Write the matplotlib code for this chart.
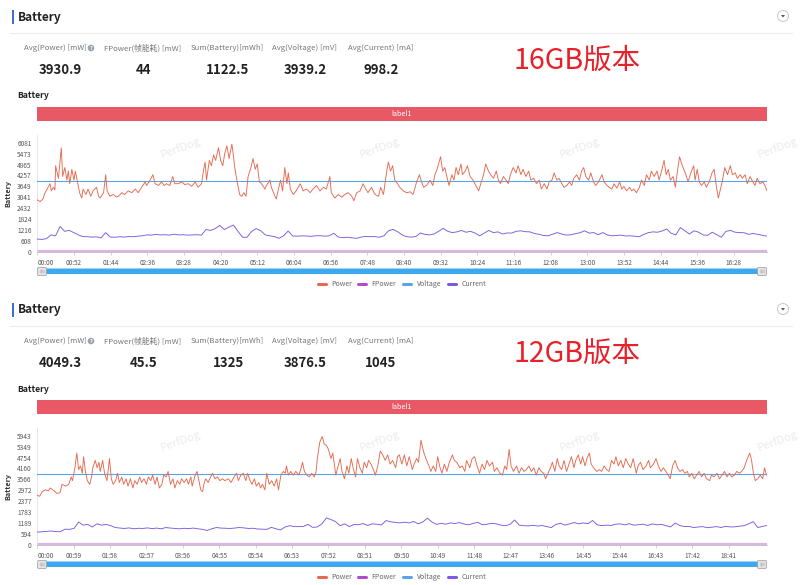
import numpy as np
import matplotlib
matplotlib.use("Agg")
import matplotlib.pyplot as plt
from matplotlib.patches import Rectangle, FancyBboxPatch, Circle, Polygon

plt.rcParams["font.family"] = ["Noto Sans CJK SC", "DejaVu Sans"]

# ---------------------------------------------------------------- data
stat_names = ["Avg(Power) [mW]", "FPower(帧能耗) [mW]", "Sum(Battery)[mWh]",
              "Avg(Voltage) [mV]", "Avg(Current) [mA]"]
series_names = ["Power", "FPower", "Voltage", "Current"]

# 16GB run
v16_title = "16GB版本"
v16_stats = ["3930.9", "44", "1122.5", "3939.2", "998.2"]
v16_voltage = 3939.2
v16_fpower = 44
v16_duration = 1035          # seconds
v16_tick_step = 52           # seconds between time labels
v16_ymax_tick = 6081
v16_power_t = [0, 4, 8, 11, 14, 18, 20, 23, 25, 26, 30, 34, 36, 39, 42, 44, 46, 49, 52, 54,
               57, 60, 63, 65, 69, 72, 76, 79, 84, 87, 89, 94, 97, 99, 103, 108, 112, 115, 120, 124,
               129, 134, 139, 143, 148, 153, 155, 160, 164, 167, 172, 176, 180, 183, 188, 192, 195, 200, 205, 209,
               214, 219, 224, 228, 233, 236, 238, 240, 244, 247, 250, 253, 257, 260, 263, 266, 269, 272, 276, 278,
               280, 284, 287, 290, 293, 296, 299, 303, 306, 309, 312, 315, 318, 323, 325, 330, 332, 336, 339, 342,
               345, 348, 351, 354, 356, 359, 363, 367, 370, 373, 377, 382, 387, 391, 396, 401, 406, 410, 415, 417,
               422, 427, 432, 436, 441, 446, 449, 453, 458, 462, 466, 469, 474, 479, 484, 487, 491, 496, 498, 501,
               504, 507, 511, 514, 519, 524, 529, 533, 538, 542, 545, 548, 552, 557, 561, 564, 567, 572, 575, 578,
               582, 584, 588, 591, 594, 597, 601, 603, 607, 610, 614, 618, 622, 626, 629, 633, 636, 640, 643, 647,
               651, 654, 657, 661, 665, 668, 671, 675, 679, 682, 686, 689, 693, 697, 700, 704, 708, 712, 715, 719,
               723, 726, 730, 733, 737, 740, 744, 747, 751, 755, 758, 761, 765, 769, 772, 775, 778, 782, 785, 789,
               792, 796, 801, 804, 808, 811, 815, 818, 822, 826, 829, 832, 836, 840, 843, 846, 850, 854, 857, 861,
               864, 868, 871, 875, 879, 882, 886, 889, 892, 895, 898, 902, 905, 908, 911, 914, 917, 920, 923, 927,
               931, 933, 936, 939, 942, 946, 949, 953, 957, 960, 963, 966, 969, 972, 975, 979, 983, 986, 990, 993,
               997, 1000, 1004, 1007, 1011, 1015, 1018, 1021, 1025, 1029, 1032, 1035]
v16_power = [2900, 2800, 2950, 3300, 3500, 3800, 3400, 3600, 3450, 4800, 4100, 5800, 4200, 4700, 4000, 4500, 3800, 4600, 4000, 4500,
             3900, 3300, 3000, 3500, 3200, 3500, 3100, 3400, 3600, 3100, 3000, 3300, 4300, 3400, 3100, 3200, 3050, 3100, 3300, 3200,
             3400, 3300, 3500, 3300, 3600, 3900, 3700, 4000, 4300, 3800, 3700, 3900, 3700, 3800, 3700, 4200, 3800, 3800, 3900, 3750,
             3800, 3650, 3900, 3600, 3800, 4600, 5000, 4000, 5100, 4800, 5400, 5100, 5800, 5100, 4800, 5500, 5900, 5200, 6000, 5400,
             4700, 3800, 3200, 3100, 3300, 3100, 4200, 4700, 5200, 4600, 4900, 3900, 3800, 3500, 3700, 4000, 3600, 3200, 2950, 3500,
             4000, 3400, 4700, 3800, 4400, 3500, 3200, 3400, 3600, 3800, 3400, 3500, 3300, 3500, 3700, 3400, 3600, 3500, 4200, 3300,
             3000, 3200, 3050, 3200, 3300, 3100, 2850, 3300, 3400, 3800, 3500, 3300, 3600, 3200, 3100, 3600, 3200, 4600, 5000, 4500,
             4800, 4000, 3800, 3600, 3400, 3300, 3350, 3200, 3900, 4300, 3900, 3600, 3700, 4000, 3700, 4300, 4600, 5300, 4500, 4700,
             4000, 3700, 4300, 4000, 4700, 4300, 4900, 4300, 4500, 4800, 4200, 4000, 3700, 3400, 3800, 4300, 4900, 4500, 4300, 4100,
             4500, 4000, 3800, 4200, 4000, 3800, 4300, 4700, 4400, 4800, 4300, 4600, 4200, 4500, 4000, 4100, 3800, 4000, 3500, 3800,
             3500, 3900, 4000, 4400, 4000, 4100, 3800, 3600, 3700, 3900, 3700, 4100, 4300, 4000, 4500, 4700, 4200, 4000, 4400, 3900,
             3700, 3900, 4300, 3900, 3700, 3600, 3500, 3800, 3550, 3900, 3500, 3650, 3400, 3600, 3400, 3500, 3300, 3600, 4000, 3700,
             4300, 4000, 4500, 4200, 4500, 4000, 4600, 5100, 4300, 4600, 4000, 4200, 3600, 4500, 5300, 4900, 4600, 4300, 3900, 4400,
             4800, 4000, 4600, 3900, 3700, 3900, 3600, 3900, 4400, 4600, 3700, 3000, 3500, 4000, 4700, 4300, 4800, 4300, 4400, 4100,
             4300, 4100, 4300, 3800, 4200, 3900, 3700, 4100, 3800, 3900, 3700, 3400]
v16_current = [720, 700, 740, 950, 900, 1420, 1150, 1200, 1080, 950, 860, 850, 830, 840, 790, 1080, 830, 820, 850, 830,
               860, 850, 880, 900, 950, 940, 980, 950, 960, 940, 990, 950, 960, 940, 950, 960, 940, 1250, 1200, 1300,
               1480, 1250, 1380, 1500, 1150, 820, 820, 1150, 1300, 1180, 950, 900, 860, 760, 900, 1170, 890, 880, 900, 890,
               870, 900, 910, 880, 900, 1040, 830, 800, 820, 790, 760, 830, 870, 850, 860, 820, 900, 1180, 1260, 1130,
               950, 850, 830, 860, 1060, 980, 950, 1000, 1150, 1320, 1150, 1080, 1120, 1200, 1100, 1150, 1050, 900, 1050, 1200,
               1080, 1120, 1000, 1060, 1050, 1150, 1180, 1130, 1120, 1030, 980, 920, 900, 990, 1080, 1000, 940, 960, 1020, 1070,
               1180, 1050, 1080, 960, 1080, 950, 900, 920, 940, 890, 900, 880, 850, 980, 1080, 1120, 1100, 1170, 1280, 1040,
               950, 1360, 1180, 1000, 1180, 1100, 950, 930, 1100, 960, 820, 1150, 1200, 1100, 1080, 1070, 980, 1030, 980, 930,
               880]

# 12GB run
v12_title = "12GB版本"
v12_stats = ["4049.3", "45.5", "1325", "3876.5", "1045"]
v12_voltage = 3876.5
v12_fpower = 45.5
v12_duration = 1183
v12_tick_step = 59
v12_ymax_tick = 5943
v12_power_t = [0, 4, 8, 13, 18, 21, 27, 32, 37, 40, 46, 51, 55, 57, 61, 64, 67, 70, 73, 75,
               78, 81, 85, 88, 90, 94, 97, 100, 102, 106, 109, 113, 117, 120, 123, 127, 130, 133, 137, 140,
               144, 147, 151, 155, 158, 162, 166, 169, 173, 177, 180, 184, 187, 191, 194, 198, 202, 205, 209, 212,
               216, 220, 223, 227, 231, 234, 238, 242, 245, 249, 251, 256, 259, 262, 265, 268, 270, 273, 277, 281,
               284, 288, 292, 296, 300, 304, 310, 314, 319, 323, 326, 330, 334, 338, 341, 345, 348, 352, 355, 359,
               362, 365, 369, 372, 376, 380, 384, 388, 391, 395, 399, 402, 404, 407, 411, 415, 419, 424, 427, 430,
               433, 437, 441, 445, 449, 452, 454, 458, 462, 465, 469, 472, 476, 479, 482, 484, 487, 491, 494, 498,
               502, 505, 509, 512, 516, 519, 523, 527, 530, 534, 537, 541, 545, 548, 552, 556, 560, 564, 568, 572,
               576, 581, 584, 587, 591, 595, 599, 603, 608, 611, 615, 618, 622, 626, 630, 635, 638, 642, 646, 649,
               653, 656, 660, 664, 668, 673, 676, 680, 685, 689, 693, 696, 701, 705, 709, 713, 717, 721, 725, 729,
               733, 738, 741, 745, 750, 754, 758, 761, 765, 768, 772, 777, 781, 785, 789, 793, 797, 801, 805, 809,
               813, 817, 821, 824, 828, 832, 835, 839, 843, 846, 850, 854, 858, 862, 866, 870, 873, 877, 881, 884,
               888, 891, 895, 898, 902, 907, 911, 915, 919, 923, 927, 931, 935, 938, 942, 946, 950, 954, 958, 962,
               966, 971, 974, 978, 982, 987, 991, 994, 999, 1003, 1007, 1011, 1015, 1019, 1023, 1026, 1030, 1034, 1038, 1042,
               1046, 1050, 1054, 1057, 1061, 1065, 1069, 1073, 1077, 1081, 1085, 1090, 1093, 1097, 1102, 1106, 1110, 1114, 1118, 1122,
               1126, 1130, 1134, 1138, 1142, 1146, 1150, 1155, 1158, 1161, 1164, 1168, 1172, 1176, 1179, 1182]
v12_power = [2700, 2650, 2900, 3000, 2950, 3100, 2950, 2800, 2850, 3300, 3200, 3300, 3700, 3500, 4200, 5000, 4100, 4300, 3900, 4800,
             4000, 3500, 3300, 3700, 4200, 4600, 4200, 4500, 4000, 4600, 3900, 3500, 4700, 3600, 3300, 3500, 3900, 3400, 3700, 3300,
             3600, 3200, 3600, 3100, 3500, 3300, 3700, 3400, 3600, 3300, 3700, 3500, 3800, 3300, 3700, 3100, 3300, 3800, 3700, 4000,
             3300, 3600, 3100, 3500, 3300, 3600, 3400, 3600, 3300, 3700, 3200, 3800, 4000, 3500, 3000, 2900, 3300, 3600, 3400, 3700,
             3900, 3600, 3700, 3500, 3600, 3500, 3600, 3400, 3700, 3900, 3500, 3800, 3900, 3500, 3900, 3500, 3300, 3600, 3200, 3400,
             3100, 3300, 3000, 3900, 3300, 3500, 3200, 3600, 3000, 3800, 4000, 3900, 4300, 3800, 4000, 3800, 4000, 3800, 4100, 4500,
             4000, 3800, 3700, 3900, 3700, 4000, 4700, 5600, 5900, 5500, 5400, 5200, 4700, 5000, 4300, 3800, 4200, 4700, 4000, 3600,
             4300, 3900, 4700, 4200, 3700, 4700, 4200, 3900, 4500, 4200, 4600, 4400, 4100, 3800, 4300, 5100, 4900, 4600, 4900, 4400,
             4600, 4200, 4800, 4900, 4400, 4900, 4300, 4800, 4100, 4400, 4700, 4500, 5700, 5100, 4700, 4300, 4000, 4300, 4000, 4800,
             4200, 3900, 4400, 4000, 4500, 4900, 4600, 4500, 4200, 4300, 4000, 4600, 4200, 4700, 4800, 4300, 3900, 4400, 4100, 4600,
             4300, 4500, 4000, 4200, 3900, 3800, 4300, 4100, 5200, 4300, 4000, 4300, 3900, 4200, 4000, 4100, 4300, 4000, 4200, 3800,
             4200, 4000, 3900, 3600, 3900, 4200, 4500, 4000, 4700, 4300, 4100, 4600, 4000, 4400, 4800, 4200, 4600, 4900, 4400, 4800,
             4300, 4700, 5000, 4400, 4200, 4000, 4100, 4000, 4300, 4100, 4000, 4600, 4400, 4800, 4300, 4600, 4200, 4700, 4400, 4200,
             4700, 3900, 4300, 4500, 4100, 4300, 4600, 4200, 4400, 4700, 4300, 4000, 4200, 4000, 3800, 3600, 4300, 4600, 4200, 4000,
             4100, 3900, 4000, 3700, 3900, 3600, 3800, 4000, 3700, 3900, 3600, 3500, 3800, 3700, 3900, 3600, 3800, 4000, 3700, 3900,
             3700, 3800, 4000, 3900, 4000, 4200, 4600, 5000, 4600, 3900, 3500, 3600, 3800, 3600, 4200, 3800]
v12_current = [700, 720, 740, 760, 730, 720, 860, 850, 900, 1250, 1080, 1120, 980, 1150, 1080, 1120, 1050, 950, 920, 900,
               930, 880, 910, 900, 930, 890, 920, 880, 950, 920, 900, 880, 910, 890, 920, 880, 850, 790, 880, 950,
               920, 910, 900, 920, 950, 930, 900, 910, 870, 860, 850, 960, 880, 820, 980, 1050, 1000, 1000, 1010, 1120,
               960, 980, 1150, 1470, 1380, 1270, 1050, 1150, 1000, 1120, 1100, 1170, 1060, 1150, 1130, 1090, 1330, 1260, 1230, 1200,
               1240, 1200, 1280, 1150, 1250, 1460, 1250, 1120, 1180, 1130, 1200, 1170, 1220, 1140, 1100, 1180, 1230, 1100, 1130, 1180,
               1150, 1080, 1050, 1120, 1360, 1080, 1050, 1040, 1070, 1030, 1060, 1000, 950, 1120, 1180, 1080, 1150, 1220, 1150, 1200,
               1160, 1330, 1100, 1050, 1080, 1060, 1130, 1150, 1090, 1160, 1080, 1100, 1130, 1060, 1150, 1100, 1120, 1050, 980, 1190,
               1060, 1000, 1010, 950, 980, 1000, 940, 970, 1000, 950, 1020, 980, 990, 1020, 1050, 1150, 1270, 950, 1010, 1060]

# ---------------------------------------------------------------- style
C_POWER = "#E5694F"
C_FPOWER = "#B24BC7"
C_VOLT = "#5AA5E8"
C_CURR = "#7A5AE0"
C_SLIDER = "#3DA8EE"
C_LABEL = "#E85865"

W, H = 800, 585
fig = plt.figure(figsize=(8, 5.85), dpi=100)
fig.patch.set_facecolor("white")
bg = fig.add_axes([0, 0, 1, 1], zorder=0)
bg.set_xlim(0, W)
bg.set_ylim(H, 0)
bg.axis("off")


def rect_of(x0, y0, x1, y1):
    return [x0 / W, 1 - y1 / H, (x1 - x0) / W, (y1 - y0) / H]


def mmss(s):
    s = int(round(s))
    return f"{s // 60:02d}:{s % 60:02d}"


def draw_panel(dy, title, stats, power_t, power, current, voltage, fpower,
               duration, tick_step, ymax_tick):
    # header
    bg.add_patch(Rectangle((11.5, 10 + dy), 2, 14, color="#3F6BE0", lw=0))
    bg.text(18, 17 + dy, "Battery", fontsize=8.5, fontweight="bold",
            color="#222222", va="center", ha="left")
    bg.plot([10, 792], [33 + dy, 33 + dy], color="#ececec", lw=0.8)
    bg.add_patch(Circle((783, 16 + dy), 5.5, facecolor="white",
                        edgecolor="#c8c8c8", lw=0.7))
    bg.add_patch(Polygon([[781, 15 + dy], [785, 15 + dy], [783, 17.5 + dy]],
                         closed=True, color="#555555", lw=0))

    # summary numbers
    label_x = [55, 143, 227, 305, 381]
    value_x = [60, 144, 228, 305, 381]
    for name, lx in zip(stat_names, label_x):
        bg.text(lx, 48 + dy, name, fontsize=5.6, color="#777777",
                ha="center", va="center")
    bg.add_patch(Circle((91, 48 + dy), 3.3, color="#9aa3b0", lw=0))
    bg.text(91, 48.2 + dy, "?", fontsize=4, color="white", ha="center",
            va="center", fontweight="bold")
    for val, vx in zip(stats, value_x):
        bg.text(vx, 70 + dy, val, fontsize=9.5, fontweight="bold",
                color="#222222", ha="center", va="center")
    bg.text(513, 61 + dy, title, fontsize=20.5, color="#E8202A",
            ha="left", va="center")

    # chart caption and label band
    bg.text(17, 96 + dy, "Battery", fontsize=6.2, fontweight="bold",
            color="#222222", ha="left", va="center")
    bg.add_patch(Rectangle((37, 107 + dy), 730, 13.5, color=C_LABEL, lw=0))
    bg.text(402, 114 + dy, "label1", fontsize=5.2, color="white",
            ha="center", va="center")

    # watermarks
    for wx in (181, 380, 580, 778):
        bg.text(wx, 148 + dy, "PerfDog", fontsize=8, color="#ebebeb",
                rotation=20, ha="center", va="center", zorder=0)

    # plotting area
    top, bottom = 135 + dy, 252 + dy
    tick_px = 109.3
    ymax = ymax_tick * (bottom - top) / tick_px
    ax = fig.add_axes(rect_of(37.3, top, 767, bottom), zorder=2)
    ax.set_facecolor("none")
    ax.set_xlim(0, duration)
    ax.set_ylim(0, ymax)

    ax.plot([0, duration], [fpower, fpower], color="#DDB3E6", lw=1.6,
            solid_capstyle="butt", zorder=2)
    ax.plot([0, duration], [voltage, voltage], color=C_VOLT, lw=0.8, zorder=3)
    ct = np.linspace(0, duration, len(current))
    ax.plot(ct, current, color=C_CURR, lw=0.65, zorder=4)
    ax.plot(power_t, power, color=C_POWER, lw=0.65, zorder=5)

    yt = np.linspace(0, ymax_tick, 11)
    ax.set_yticks(yt)
    ax.set_yticklabels([str(int(np.floor(v + 0.5))) for v in yt])
    xt = np.arange(0, duration - tick_step * 0.9, tick_step)
    ax.set_xticks(xt)
    labels = ax.set_xticklabels([mmss(v) for v in xt])
    labels[0].set_horizontalalignment("left")

    for side in ("top", "right"):
        ax.spines[side].set_visible(False)
    ax.spines["left"].set_color("#e2e2e2")
    ax.spines["left"].set_linewidth(0.6)
    ax.spines["bottom"].set_color("#bbbbbb")
    ax.spines["bottom"].set_linewidth(0.6)
    ax.tick_params(axis="y", length=0, labelsize=4.7, labelcolor="#555555", pad=4)
    ax.tick_params(axis="x", length=2.5, width=0.5, color="#bbbbbb",
                   labelsize=4.6, labelcolor="#555555", pad=2.5)
    ax.set_ylabel("Battery", fontsize=5.2, fontweight="bold", color="#333333",
                  labelpad=4)

    # zoom slider
    bg.add_patch(FancyBboxPatch((38, 268.5 + dy), 728, 5.5,
                                boxstyle="round,pad=0,rounding_size=1.5",
                                facecolor=C_SLIDER, edgecolor="none"))
    for hx in (37.5, 757.5):
        bg.add_patch(FancyBboxPatch((hx, 267.5 + dy), 9, 8,
                                    boxstyle="round,pad=0,rounding_size=1.2",
                                    facecolor="#e4e4e4", edgecolor="#9a9a9a",
                                    lw=0.5, zorder=3))
        for k in (-1.5, 0, 1.5):
            bg.plot([hx + 4.5 + k, hx + 4.5 + k], [269.8 + dy, 273.2 + dy],
                    color="#8a8a8a", lw=0.35, zorder=4)

    # legend
    icon_x = [322, 362, 407, 452]
    text_x = [331, 371, 417, 462]
    colors = [C_POWER, C_FPOWER, C_VOLT, C_CURR]
    for name, ix, tx, c in zip(series_names, icon_x, text_x, colors):
        bg.plot([ix - 4, ix + 4], [284 + dy, 284 + dy], color=c, lw=2.2,
                solid_capstyle="round")
        bg.text(tx, 284 + dy, name, fontsize=5, color="#666666",
                ha="left", va="center")


draw_panel(0, v16_title, v16_stats, v16_power_t, v16_power, v16_current,
           v16_voltage, v16_fpower, v16_duration, v16_tick_step, v16_ymax_tick)
draw_panel(293, v12_title, v12_stats, v12_power_t, v12_power, v12_current,
           v12_voltage, v12_fpower, v12_duration, v12_tick_step, v12_ymax_tick)

fig.savefig("out.png", dpi=100, facecolor="white")
